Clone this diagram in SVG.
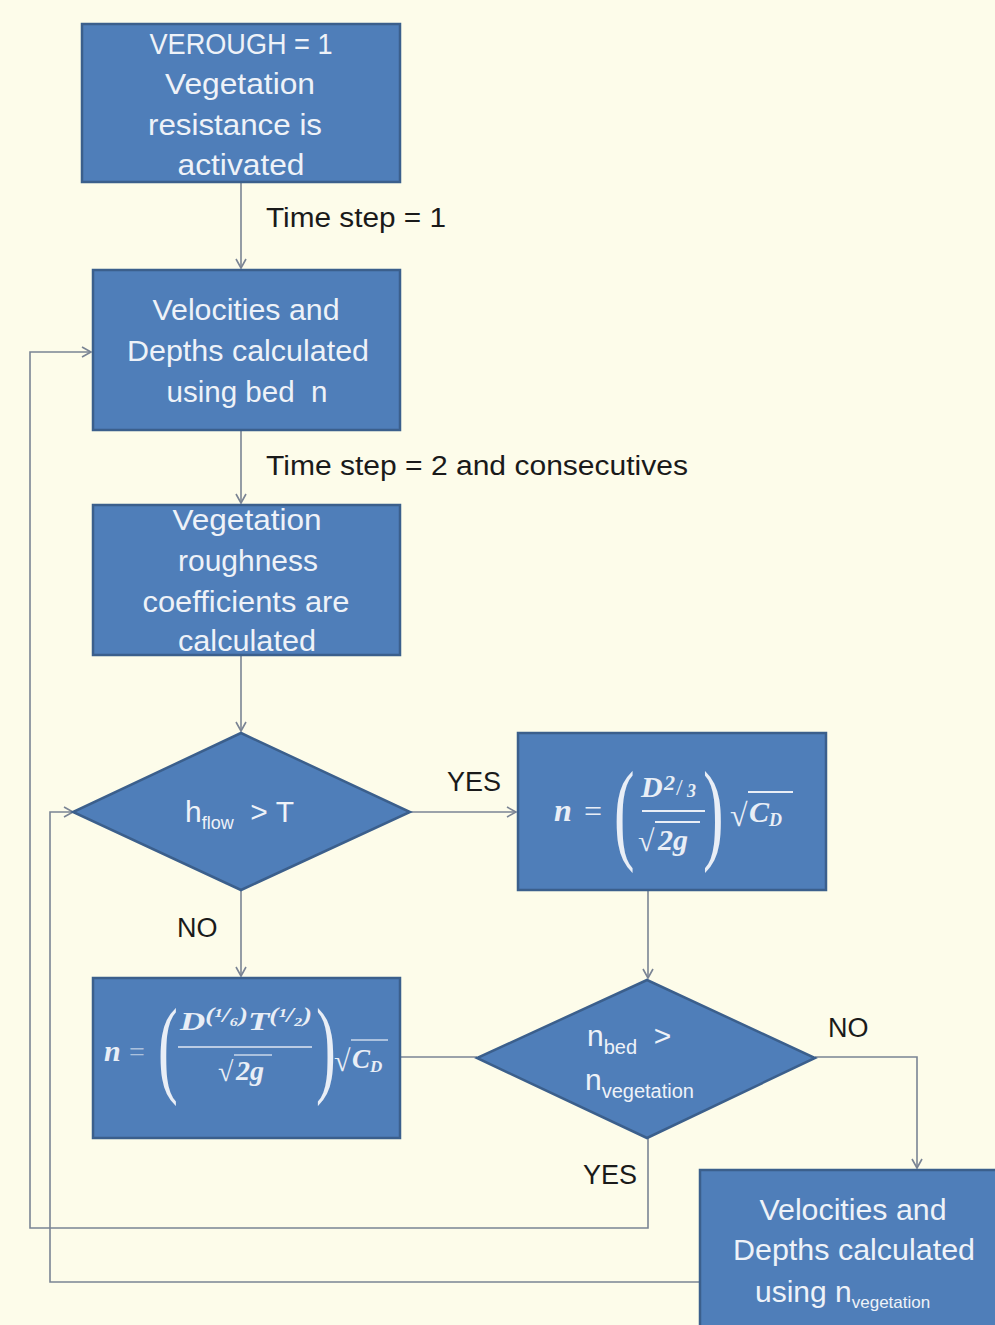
<svg xmlns="http://www.w3.org/2000/svg" width="995" height="1325" viewBox="0 0 995 1325">
<defs>
<marker id="arr" markerUnits="userSpaceOnUse" markerWidth="14" markerHeight="14" refX="11" refY="7" orient="auto">
<path d="M2,2 L11,7 L2,12" fill="none" stroke="#7a8494" stroke-width="1.6"/>
</marker>
<style>
.box{fill:#4f7eb9;stroke:#3b5f8c;stroke-width:2.5}
.t{font-family:"Liberation Sans",Arial,sans-serif;font-size:30px;fill:#eef2f8;text-anchor:middle}
.s{text-anchor:start}
.lbl{font-family:"Liberation Sans",Arial,sans-serif;font-size:27px;fill:#1a1a1a}
.c{fill:none;stroke:#7a8494;stroke-width:1.6}
.m{font-family:"Liberation Serif","Times New Roman",serif;font-weight:bold;font-style:italic;fill:#e9eef6}
.mp{font-family:"Liberation Serif","Times New Roman",serif;fill:#e9eef6}
.ml{stroke:#e9eef6;stroke-width:2;fill:none}
</style>
</defs>
<rect width="995" height="1325" fill="#fdfcea"/>

<g id="connectors">
<path class="c" d="M241,182 V268" marker-end="url(#arr)"/>
<path class="c" d="M241,430 V503" marker-end="url(#arr)"/>
<path class="c" d="M241,655 V731" marker-end="url(#arr)"/>
<path class="c" d="M410,812 H516" marker-end="url(#arr)"/>
<path class="c" d="M241,890 V976" marker-end="url(#arr)"/>
<path class="c" d="M648,890 V978" marker-end="url(#arr)"/>
<path class="c" d="M400,1057 H477"/>
<path class="c" d="M815,1057 H917 V1168" marker-end="url(#arr)"/>
<path class="c" d="M648,1138 V1228 H30 V352 H91" marker-end="url(#arr)"/>
<path class="c" d="M700,1282 H50 V812 H73" marker-end="url(#arr)"/>
<text class="lbl" x="266" y="227" textLength="180" lengthAdjust="spacingAndGlyphs">Time step = 1</text>
<text class="lbl" x="266" y="475" textLength="422" lengthAdjust="spacingAndGlyphs">Time step = 2 and consecutives</text>
<text class="lbl" x="447" y="791">YES</text>
<text class="lbl" x="177" y="937">NO</text>
<text class="lbl" x="828" y="1037">NO</text>
<text class="lbl" x="583" y="1184">YES</text>
</g>

<g id="n1">
<rect class="box" x="82" y="24" width="318" height="158"/>
<text class="t" x="241" y="54" textLength="183" lengthAdjust="spacingAndGlyphs">VEROUGH = 1</text>
<text class="t" x="240" y="94" textLength="150" lengthAdjust="spacingAndGlyphs">Vegetation</text>
<text class="t" x="235" y="135" textLength="174" lengthAdjust="spacingAndGlyphs">resistance is</text>
<text class="t" x="241" y="175" textLength="127" lengthAdjust="spacingAndGlyphs">activated</text>
</g>

<g id="n2">
<rect class="box" x="93" y="270" width="307" height="160"/>
<text class="t" x="246" y="320" textLength="187" lengthAdjust="spacingAndGlyphs">Velocities and</text>
<text class="t" x="248" y="361" textLength="242" lengthAdjust="spacingAndGlyphs">Depths calculated</text>
<text class="t" x="247" y="402" xml:space="preserve" textLength="161" lengthAdjust="spacingAndGlyphs">using bed  n</text>
</g>

<g id="n3">
<rect class="box" x="93" y="505" width="307" height="150"/>
<text class="t" x="247" y="530" textLength="149" lengthAdjust="spacingAndGlyphs">Vegetation</text>
<text class="t" x="248" y="571" textLength="140" lengthAdjust="spacingAndGlyphs">roughness</text>
<text class="t" x="246" y="612" textLength="207" lengthAdjust="spacingAndGlyphs">coefficients are</text>
<text class="t" x="247" y="651" textLength="138" lengthAdjust="spacingAndGlyphs">calculated</text>
</g>

<g id="d1">
<polygon class="box" points="241,733 410,812 241,890 73,812"/>
<text class="t s" x="185" y="822">h<tspan font-size="18" dy="7">flow</tspan><tspan dy="-7" xml:space="preserve">  &gt; T</tspan></text>
</g>

<g id="n4">
<rect class="box" x="518" y="733" width="308" height="157"/>
<text class="m" x="554" y="821" font-size="32">n</text>
<text class="mp" x="584" y="822" font-size="32">=</text>
<text class="mp" x="614" y="849" font-size="112" transform="translate(614,849) scale(0.55,1) translate(-614,-849)">(</text>
<text class="m" x="641" y="797" font-size="30">D</text>
<text class="m" x="664" y="790" font-size="22">2</text>
<text class="mp" x="676" y="795" font-size="24">/</text>
<text class="m" x="687" y="797" font-size="18">3</text>
<line class="ml" x1="642" y1="811" x2="705" y2="811"/>
<text class="mp" x="638" y="851" font-size="30">√</text>
<text class="m" x="658" y="850" font-size="30">2g</text>
<line class="ml" x1="655" y1="822" x2="700" y2="822"/>
<text class="mp" x="703" y="849" font-size="112" transform="translate(703,849) scale(0.55,1) translate(-703,-849)">)</text>
<text class="mp" x="730" y="826" font-size="32">√</text>
<line class="ml" x1="748" y1="792" x2="793" y2="792"/>
<text class="m" x="749" y="822" font-size="30">C<tspan font-size="18" dy="4">D</tspan></text>
</g>

<g id="n5">
<rect class="box" x="93" y="978" width="307" height="160"/>
<text class="m" x="104" y="1061" font-size="30">n</text>
<text class="mp" x="129" y="1061" font-size="28" opacity="0.6">=</text>
<text class="mp" x="158" y="1083" font-size="108" transform="translate(158,1083) scale(0.55,1) translate(-158,-1083)">(</text>
<text class="m" x="180" y="1030" font-size="26" textLength="132" lengthAdjust="spacingAndGlyphs">D<tspan font-size="20" dy="-8">(¹/₆)</tspan><tspan font-size="26" dy="8">T</tspan><tspan font-size="20" dy="-8">(¹/₂)</tspan></text>
<line class="ml" x1="178" y1="1047" x2="312" y2="1047" opacity="0.7"/>
<text class="mp" x="218" y="1081" font-size="28">√</text>
<text class="m" x="236" y="1080" font-size="28">2g</text>
<line class="ml" x1="234" y1="1055" x2="272" y2="1055" opacity="0.6"/>
<text class="mp" x="316" y="1083" font-size="108" transform="translate(316,1083) scale(0.55,1) translate(-316,-1083)">)</text>
<text class="mp" x="334" y="1071" font-size="30">√</text>
<line class="ml" x1="351" y1="1040" x2="388" y2="1040" opacity="0.6"/>
<text class="m" x="352" y="1068" font-size="27">C<tspan font-size="17" dy="4">D</tspan></text>
</g>

<g id="d2">
<polygon class="box" points="647,980 815,1058 647,1138 477,1058"/>
<text class="t s" x="587" y="1046">n<tspan font-size="20" dy="8">bed</tspan><tspan dy="-8" xml:space="preserve">  &gt;</tspan></text>
<text class="t s" x="585" y="1090">n<tspan font-size="20" dy="8">vegetation</tspan></text>
</g>

<g id="n6">
<rect class="box" x="700" y="1170" width="305" height="165"/>
<text class="t" x="853" y="1220" textLength="187" lengthAdjust="spacingAndGlyphs">Velocities and</text>
<text class="t" x="854" y="1260" textLength="242" lengthAdjust="spacingAndGlyphs">Depths calculated</text>
<text class="t s" x="755" y="1302">using n<tspan font-size="17" dy="6">vegetation</tspan></text>
</g>
</svg>
